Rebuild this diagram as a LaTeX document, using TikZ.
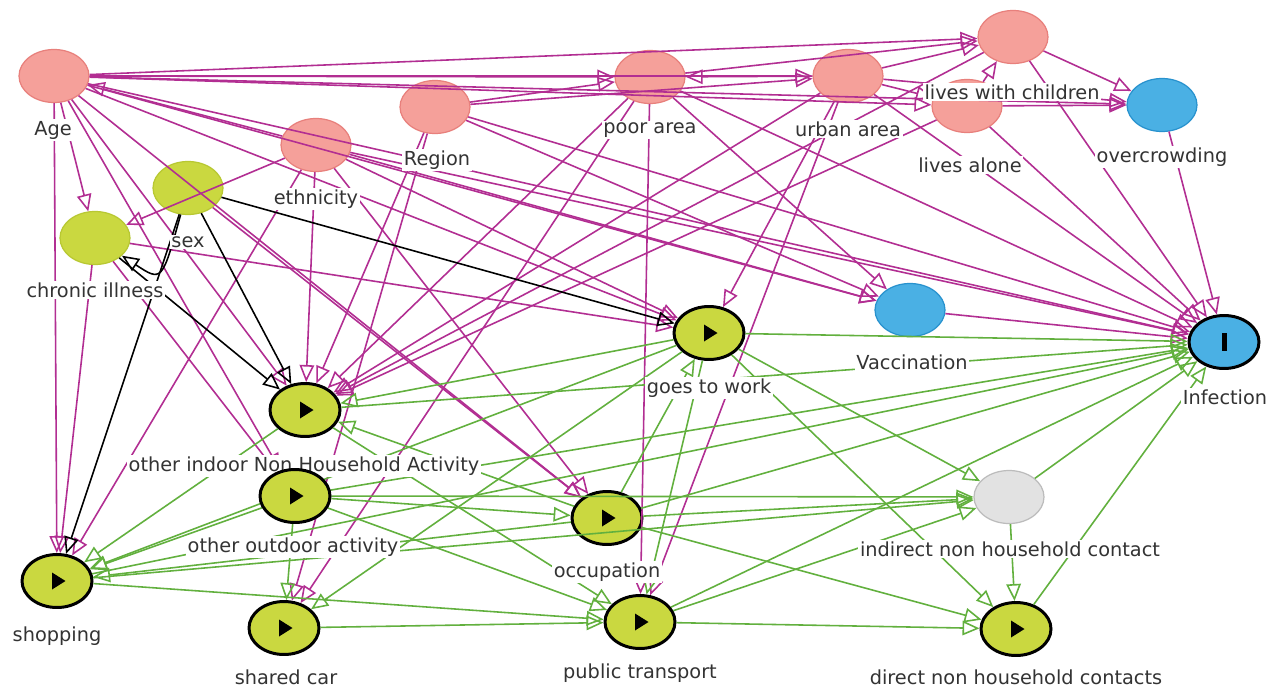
\documentclass[tikz,border=0pt]{standalone}
\usepackage{fontspec}
\setmainfont{DejaVu Sans}
\usetikzlibrary{arrows.meta, positioning, shapes.geometric}
\definecolor{adjpink}{RGB}{245,160,154}
\definecolor{adjpinkdark}{RGB}{232,128,124}
\definecolor{outblue}{RGB}{74,176,228}
\definecolor{outbluedark}{RGB}{40,146,206}
\definecolor{expgreen}{RGB}{202,216,64}
\definecolor{expgreendark}{RGB}{184,200,50}
\definecolor{latgrey}{RGB}{226,226,226}
\definecolor{latgreydark}{RGB}{188,188,188}
\definecolor{biasline}{RGB}{178,46,146}
\definecolor{causeline}{RGB}{98,176,62}
\definecolor{labtext}{RGB}{51,51,51}
\pgfdeclarelayer{labels}
\pgfdeclarelayer{top}
\pgfsetlayers{main,labels,top}

\begin{document}
\begin{tikzpicture}[x=0.02cm, y=-0.02cm,
    var/.style={ellipse, inner sep=0pt, minimum width=1.4cm, minimum height=1.06cm, line width=0.7pt},
    adj/.style={var, fill=adjpink, draw=adjpinkdark},
    anc/.style={var, fill=expgreen, draw=expgreendark},
    other/.style={var, fill=outblue, draw=outbluedark},
    latent/.style={var, fill=latgrey, draw=latgreydark},
    expo/.style={var, fill=expgreen, draw=black, line width=1.7pt,
      path picture={\fill[black] ([xshift=-0.1cm,yshift=0.17cm]path picture bounding box.center)
        -- ++(0.27cm,-0.17cm) -- ++(-0.27cm,-0.17cm) -- cycle;}},
    outc/.style={var, fill=outblue, draw=black, line width=1.7pt,
      path picture={\fill[black] ([xshift=-0.05cm,yshift=-0.18cm]path picture bounding box.center)
        rectangle ++(0.1cm,0.36cm);}},
    lab/.style={fill=white, inner sep=1pt, text=labtext, font=\fontsize{11}{13}\selectfont},
    tip/.style={-{Triangle[open, length=0.34cm, width=0.29cm]}},
    bias/.style={tip, draw=biasline, line width=0.9pt},
    cause/.style={tip, draw=causeline, line width=0.9pt},
    plain/.style={tip, draw=black, line width=0.9pt}
  ]
  \useasboundingbox[fill=white] (0,0) rectangle (1269,690);

  % covariates
  \node[adj] (age) at (54,76) {};
  \node[adj] (region) at (435,107) {};
  \node[adj] (ethn) at (316,145) {};
  \node[adj] (poor) at (650,77) {};
  \node[adj] (urban) at (848,76) {};
  \node[adj] (lwc) at (1013,37) {};
  \node[adj] (lalone) at (967,106) {};
  \node[other] (crowd) at (1162,105) {};
  \node[anc] (sex) at (188,188) {};
  \node[anc] (chronic) at (95,238) {};
  \node[other] (vacc) at (910,310) {};
  \node[outc] (infect) at (1224,342) {};
  % exposures
  \node[expo] (work) at (709,333) {};
  \node[expo] (indoor) at (305,410) {};
  \begin{pgfonlayer}{top}
  \node[expo] (outdoor) at (295,496) {};
  \end{pgfonlayer}
  \node[expo] (occup) at (607,518) {};
  \node[expo] (shop) at (57,581) {};
  \node[expo] (car) at (284,628) {};
  \node[expo] (transp) at (640,622) {};
  \node[latent] (indirect) at (1009,497) {};
  \node[expo] (direct) at (1016,629) {};

  \foreach \a/\b in {age/lwc, age/poor, age/urban, age/lalone, age/crowd, age/chronic, age/vacc,
      age/infect, age/indoor, age/outdoor, age/shop, age/occup, age/work,
      ethn/age, ethn/chronic, ethn/indoor, ethn/shop, ethn/occup, ethn/work, ethn/vacc, ethn/infect,
      region/poor, region/urban, region/indoor, region/vacc, region/infect, region/car,
      poor/lwc, poor/vacc, poor/infect, poor/indoor, poor/transp, poor/car,
      urban/poor, urban/lwc, urban/lalone, urban/crowd, urban/infect, urban/indoor, urban/work, urban/transp,
      lwc/crowd, lwc/infect, lwc/indoor,
      lalone/lwc, lalone/crowd, lalone/infect, lalone/indoor,
      crowd/infect, vacc/infect,
      chronic/work, chronic/shop, chronic/outdoor, sex/occup}
    \draw[bias] (\a) -- (\b);

  \foreach \a/\b in {work/indoor, work/shop, work/infect, work/indirect, work/direct, work/transp, work/car,
      occup/work, occup/indoor, occup/shop, occup/infect, occup/indirect, occup/direct,
      indoor/shop, indoor/infect, indoor/transp,
      outdoor/shop, outdoor/car, outdoor/transp, outdoor/indirect, outdoor/infect, outdoor/occup,
      shop/transp, shop/indirect, shop/infect,
      car/transp, transp/direct, transp/infect, transp/indirect,
      indirect/direct, indirect/infect, direct/infect}
    \draw[cause] (\a) -- (\b);

  \foreach \a/\b in {sex/indoor, sex/work, sex/shop, chronic/indoor}
    \draw[plain] (\a) -- (\b);
  \draw[plain] (sex) .. controls (162,282) .. (chronic);

  \begin{pgfonlayer}{labels}
  \node[lab] (agelab) at (53,130) {Age};
  \node[lab] (regionlab) at (437,160) {Region};
  \node[lab] (ethnlab) at (316,199) {ethnicity};
  \node[lab] (poorlab) at (650,130) {poor area};
  \node[lab] (urbanlab) at (848,129) {urban area};
  \node[lab] (lwclab) at (1012,92) {lives with children};
  \node[lab] (alonelab) at (970,165) {lives alone};
  \node[lab] (crowdlab) at (1162,157) {overcrowding};
  \node[lab] (sexlab) at (188,242) {sex};
  \node[lab] (chroniclab) at (95,290) {chronic illness};
  \node[lab] (vacclab) at (912,362) {Vaccination};
  \node[lab] (infectlab) at (1225,397) {Infection};
  \node[lab] (worklab) at (709,388) {goes to work};
  \node[lab] (indoorlab) at (304,466) {other indoor Non Household Activity};
  \node[lab] (outdoorlab) at (293,547) {other outdoor activity};
  \node[lab] (occuplab) at (607,572) {occupation};
  \node[lab] (shoplab) at (57,636) {shopping};
  \node[lab] (carlab) at (286,677) {shared car};
  \node[lab] (transplab) at (640,673) {public transport};
  \node[lab] (indirectlab) at (1010,549) {indirect non household contact};
  \node[lab] (directlab) at (1016,677) {direct non household contacts};
  \end{pgfonlayer}
\end{tikzpicture}
\end{document}
